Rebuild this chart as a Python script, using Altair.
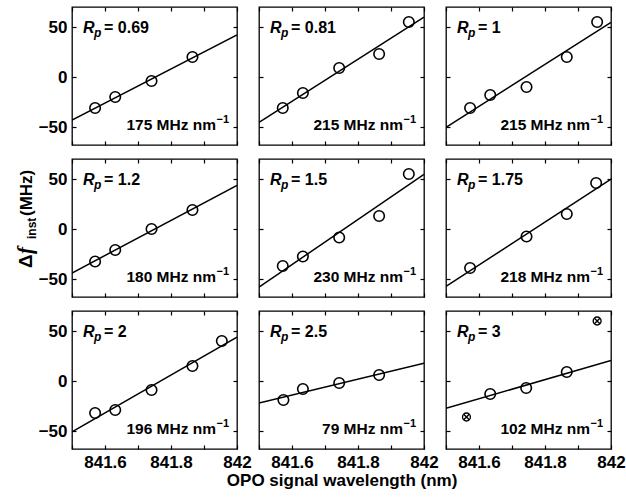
import altair as alt
import pandas as pd

# ---------------- data ----------------
rp_labels = ["0.69", "0.81", "1", "1.2", "1.5", "1.75", "2", "2.5", "3"]
slope_labels = ["175", "215", "215", "180", "230", "218", "196", "79", "102"]

wl_1 = [841.570, 841.631, 841.741, 841.865]
df_1 = [-31, -20, -4, 20]
wl_2 = [841.572, 841.633, 841.743, 841.864, 841.954]
df_2 = [-31, -16, 9, 23, 55]
wl_3 = [841.573, 841.634, 841.744, 841.866, 841.958]
df_3 = [-31, -18, -10, 20, 55]
wl_4 = [841.570, 841.631, 841.741, 841.865]
df_4 = [-32.5, -21, 0, 19]
wl_5 = [841.572, 841.633, 841.743, 841.864, 841.954]
df_5 = [-37, -27.5, -8.5, 13, 55]
wl_6 = [841.573, 841.744, 841.866, 841.955]
df_6 = [-39, -7.5, 15, 46]
wl_7 = [841.570, 841.631, 841.741, 841.865, 841.954]
df_7 = [-32, -29, -9, 15, 40]
wl_8 = [841.574, 841.633, 841.743, 841.864]
df_8 = [-19, -8, -2, 6]
wl_9 = [841.562, 841.634, 841.743, 841.866, 841.958]
df_9 = [-36, -13, -7, 9, 60]
excluded_9 = [True, False, False, False, True]

wls = [wl_1, wl_2, wl_3, wl_4, wl_5, wl_6, wl_7, wl_8, wl_9]
dfs = [df_1, df_2, df_3, df_4, df_5, df_6, df_7, df_8, df_9]

x_ticks = [841.5, 841.6, 841.7, 841.8, 841.9, 842.0]
y_ticks = [-50, 0, 50]
x_domain = [841.5, 842.0]
y_domain = [-68, 70]

# ---------------- style ----------------
W, H = 165, 138
FONT = "Liberation Sans"
SERIF = "Liberation Serif"
WEIGHT = "bold"

label_expr = ("abs(datum.value*10 - round(datum.value*5)*2) < 0.01 ? "
              "format(datum.value, '~f') : ''")


def tick_axis(orient, values, **extra):
    kw = dict(orient=orient, offset=-4, values=values, tickSize=4, ticks=True,
              tickColor="black", tickWidth=1.2, domain=False, grid=False,
              labels=False, title=None)
    kw.update(extra)
    return alt.Axis(**kw)


def panel(i):
    row, col = divmod(i, 3)
    excl = excluded_9 if i == 8 else [False] * len(wls[i])
    d = pd.DataFrame({"wl": wls[i], "df": dfs[i], "excl": excl})
    base = alt.Chart(d)
    xs = alt.Scale(domain=x_domain, nice=False, zero=False)
    ys = alt.Scale(domain=y_domain, nice=False, zero=False)

    xkw = {}
    if row == 2:
        xkw = dict(labels=True, labelExpr=label_expr, labelFlush=False,
                   labelOverlap=False, labelPadding=5, labelFontSize=17,
                   labelFont=FONT, labelFontWeight=WEIGHT, labelColor="black")
    ykw = {}
    if col == 0:
        ykw = dict(labels=True, labelPadding=5, labelFontSize=17,
                   labelFont=FONT, labelFontWeight=WEIGHT, labelColor="black",
                   labelOverlap=False)

    kept = base.transform_filter("!datum.excl")
    pts = kept.mark_point(shape="circle", filled=False, size=110,
                          strokeWidth=1.6, color="black", opacity=1).encode(
        x=alt.X("wl:Q", scale=xs, axis=tick_axis("bottom", x_ticks, **xkw)),
        y=alt.Y("df:Q", scale=ys, axis=tick_axis("left", y_ticks, **ykw)),
    )
    fit = kept.transform_regression("wl", "df", extent=x_domain).mark_line(
        color="black", strokeWidth=1.5, clip=True).encode(
        x=alt.X("wl:Q", scale=xs, axis=tick_axis("top", x_ticks)),
        y=alt.Y("df:Q", scale=ys, axis=tick_axis("right", y_ticks)),
    )
    layers = [pts, fit]

    if any(excl):
        xd = base.transform_filter("datum.excl")
        ring = xd.mark_point(shape="circle", filled=False, size=62,
                             strokeWidth=1.4, color="black", opacity=1).encode(
            x=alt.X("wl:Q", scale=xs, axis=None),
            y=alt.Y("df:Q", scale=ys, axis=None))
        cross = xd.mark_point(shape="M-0.7,-0.7L0.7,0.7M-0.7,0.7L0.7,-0.7",
                              filled=False, size=62, strokeWidth=1.4,
                              color="black", opacity=1).encode(
            x=alt.X("wl:Q", scale=xs, axis=None),
            y=alt.Y("df:Q", scale=ys, axis=None))
        layers += [ring, cross]

    lab = pd.DataFrame({"eq": ["= " + rp_labels[i]],
                        "slope": [slope_labels[i] + " MHz nm"]})
    tb = alt.Chart(lab)
    common = dict(font=FONT, color="black", baseline="alphabetic",
                  fontWeight=WEIGHT)
    r_txt = tb.mark_text(text="R", fontSize=16, fontStyle="italic",
                         align="left", **common).encode(
        x=alt.value(11), y=alt.value(26))
    p_txt = tb.mark_text(text="p", fontSize=12, fontStyle="italic",
                         align="left", **common).encode(
        x=alt.value(22), y=alt.value(30))
    eq_txt = tb.mark_text(fontSize=16, align="left", **common).encode(
        x=alt.value(32), y=alt.value(26), text="eq:N")
    s_txt = tb.mark_text(fontSize=15.5, align="right", **common).encode(
        x=alt.value(W - 21), y=alt.value(123), text="slope:N")
    sup_txt = tb.mark_text(text="\u22121", fontSize=11, align="right",
                           **common).encode(x=alt.value(W - 8), y=alt.value(116))
    layers += [r_txt, p_txt, eq_txt, s_txt, sup_txt]

    if col == 0:
        op = 1 if i == 3 else 0
        rot = dict(angle=270, align="left", baseline="alphabetic",
                   color="black", opacity=op)
        delta = tb.mark_text(text="\u0394", font=FONT, fontSize=19,
                             fontWeight=WEIGHT, **rot).encode(
            x=alt.value(-40), y=alt.value(109))
        f_t = tb.mark_text(text="f", font=SERIF, fontSize=21, fontStyle="italic",
                           fontWeight=WEIGHT, **rot).encode(
            x=alt.value(-40), y=alt.value(95))
        inst = tb.mark_text(text="inst", font=FONT, fontSize=12,
                            fontWeight=WEIGHT, **rot).encode(
            x=alt.value(-36), y=alt.value(80))
        mhz = tb.mark_text(text="(MHz)", font=FONT, fontSize=17,
                           fontWeight=WEIGHT, **rot).encode(
            x=alt.value(-40), y=alt.value(57))
        layers += [delta, f_t, inst, mhz]

    return alt.layer(*layers).resolve_axis(x="independent", y="independent").properties(
        width=W, height=H)


panels = [panel(i) for i in range(9)]
chart = alt.concat(*panels, columns=3, align="each",
                   spacing=alt.RowColnumber(row=10, column=5)).properties(
    padding={"left": 14, "top": 5, "right": 0, "bottom": 0},
    background="white",
    title=alt.TitleParams("OPO signal wavelength (nm)", orient="bottom",
                          anchor="middle", dx=22, offset=2, font=FONT,
                          fontSize=17, fontWeight=WEIGHT, color="black"),
).configure_view(stroke="black", strokeWidth=1.3)

chart.save("out.html", embed_options={"renderer": "svg", "actions": False})
